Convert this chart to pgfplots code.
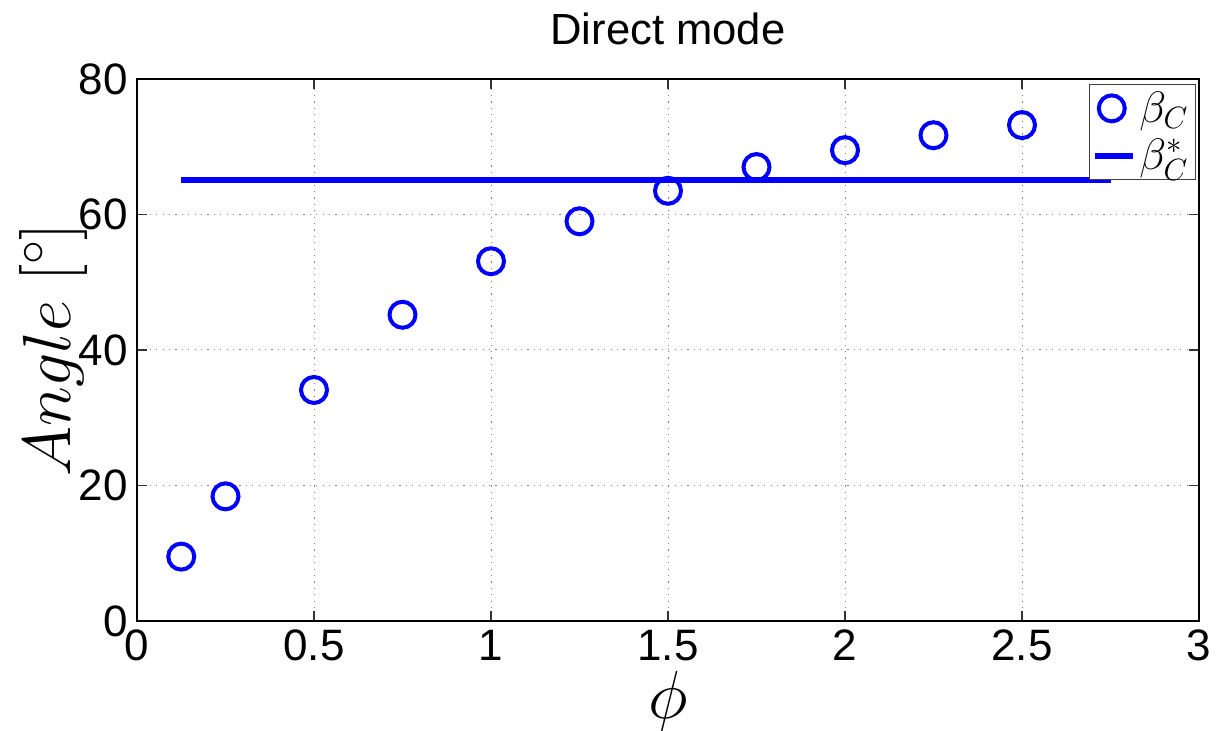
\RequirePackage{fix-cm}
\documentclass[border=0pt]{standalone}
\usepackage{pgfplots}
\pgfplotsset{compat=1.18}
\usepackage{fontspec}
\setmainfont{Liberation Sans}
\begin{document}
\begin{tikzpicture}
\path[use as bounding box] (-68.5pt,-55pt) rectangle (542pt,310.5pt);
\begin{axis}[
  at={(0,0)}, anchor=south west,
  scale only axis, width=531pt, height=271pt,
  xmin=0, xmax=3, ymin=0, ymax=80,
  xtick={0,0.5,1,1.5,2,2.5,3}, ytick={0,20,40,60,80},
  tick align=inside, major tick length=5pt,
  grid=major,
  major grid style={gray, line width=0.5pt, dash pattern=on 0.6pt off 2.6pt},
  axis line style={line width=0.8pt},
  tick style={line width=0.6pt, black!80},
  /pgf/number format/assume math mode=true,
  ticklabel style={font=\fontsize{22}{26}\selectfont},
  xticklabel style={yshift=-1pt},
  yticklabel style={xshift=-1pt},
  title={Direct mode},
  title style={font=\fontsize{21.8}{26}\selectfont, at={(axis description cs:0.5,1)}, anchor=base, yshift=11pt},
  xlabel={$\phi$},
  xlabel style={font=\fontsize{34}{40}\selectfont, at={(axis description cs:0.5,0)}, anchor=base, yshift=-49pt},
  ylabel={$Angle\ [^\circ]$},
  ylabel style={font=\fontsize{34}{40}\selectfont, at={(axis description cs:-0.063,0.5)}, anchor=base},
  legend style={at={(axis description cs:0.9972,0.9908)}, anchor=north east, draw=black!75, line width=0.6pt, font=\fontsize{22}{26}\selectfont, inner sep=1.5pt, row sep=3pt},
  legend cell align=left,
]
\addplot[only marks, mark=o, mark size=6.5pt, color=blue, mark options={line width=2pt}] coordinates {
 (0.125,9.5) (0.25,18.4) (0.5,34.1) (0.75,45.2) (1,53.1) (1.25,59.0)
 (1.5,63.5) (1.75,67.0) (2,69.5) (2.25,71.7) (2.5,73.2)
};
\addlegendentry{$\beta_C$}
\addplot[color=blue, line width=2.6pt, legend image code/.code={\draw[blue, line width=2.6pt] (0pt,0pt) -- (19pt,0pt);}] coordinates {(0.125,65.1) (2.75,65.1)};
\addlegendentry{$\beta_C^*$}
\end{axis}
\end{tikzpicture}
\end{document}
